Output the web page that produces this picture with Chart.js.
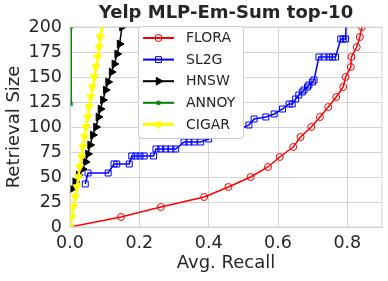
<!DOCTYPE html>
<html>
<head>
<meta charset="utf-8">
<script src="https://cdn.jsdelivr.net/npm/chart.js@4.4.1/dist/chart.umd.min.js"></script>
<style>
  html, body { margin: 0; padding: 0; background: #fff; }
  #wrap { width: 388px; height: 281px; position: relative; }
</style>
</head>
<body>
<div id="wrap"><canvas id="grafico"></canvas></div>
<script>
// valores (recall medio x tamanho recuperado)
const floraRecall = [0, 0.147, 0.262, 0.387, 0.457, 0.521, 0.571, 0.605, 0.644, 0.665, 0.696,
  0.721, 0.745, 0.768, 0.788, 0.795, 0.81, 0.812, 0.827, 0.836, 0.842, 0.85];
const floraSize = [0, 10, 20, 30, 40, 50, 60, 70, 80, 90, 100,
  110, 120, 130, 140, 150, 160, 170, 180, 190, 200, 210];

const sl2gRecall = [0.044, 0.052, 0.11, 0.127, 0.135, 0.171, 0.178, 0.19, 0.202, 0.214, 0.241,
  0.248, 0.262, 0.276, 0.291, 0.305, 0.329, 0.343, 0.358, 0.377, 0.40, 0.44, 0.48,
  0.516, 0.531, 0.565, 0.589, 0.613, 0.632, 0.641, 0.651, 0.66, 0.67, 0.675, 0.685, 0.689,
  0.699, 0.704, 0.718, 0.733, 0.747, 0.757, 0.766, 0.781, 0.788, 0.795, 0.797];
const sl2gSize = [43, 54, 54, 63, 63, 63, 71, 71, 71, 71, 71,
  78, 78, 78, 78, 78, 85, 85, 85, 85, 88, 92, 96,
  102, 108, 110, 113, 118, 123, 123, 128, 132, 135, 137, 140, 142,
  145, 147, 170, 170, 170, 170, 170, 188, 188, 188, 212];

const hnswRecall = [0.005, 0.015, 0.025, 0.036, 0.045, 0.052, 0.058, 0.066, 0.075, 0.082,
  0.088, 0.095, 0.103, 0.11, 0.12, 0.128, 0.136, 0.143, 0.15, 0.155];
const hnswSize = [38, 45, 52, 58, 65, 73, 82, 92, 100, 110,
  118, 127, 137, 145, 155, 163, 173, 183, 200, 215];

const annoyRecall = [0.003, 0.003, 0.004];
const annoySize = [123, 200, 260];

const cigarRecall = [0, 0.005, 0.01, 0.015, 0.02, 0.024, 0.028, 0.033, 0.037, 0.042, 0.046,
  0.051, 0.055, 0.06, 0.065, 0.07, 0.075, 0.08, 0.084, 0.087, 0.092, 0.096];
const cigarSize = [0, 10, 20, 30, 40, 50, 60, 70, 80, 90, 100,
  110, 120, 130, 140, 150, 160, 170, 180, 190, 200, 210];

const xTicks = [0, 0.2, 0.4, 0.6, 0.8];
const yTicks = [0, 25, 50, 75, 100, 125, 150, 175, 200];

const fonte = "'DejaVu Sans', sans-serif";
const corTexto = "#262626";
const corGrade = "#d5d5d5";

function pontos(xs, ys) {
  return xs.map((x, i) => ({ x: x, y: ys[i] }));
}

const series = [
  { label: "FLORA", xs: floraRecall, ys: floraSize, cor: "#ff0000", estilo: "circle", rot: 0, raio: 3.5, cheio: false, linha: 1.5, ordem: 5 },
  { label: "SL2G", xs: sl2gRecall, ys: sl2gSize, cor: "#0000ff", estilo: "rect", rot: 0, raio: 4.2, cheio: false, linha: 1.5, ordem: 4 },
  { label: "HNSW", xs: hnswRecall, ys: hnswSize, cor: "#000000", estilo: "triangle", rot: 90, raio: 4.5, cheio: true, linha: 1.5, ordem: 3 },
  { label: "ANNOY", xs: annoyRecall, ys: annoySize, cor: "#008000", estilo: "star", rot: 0, raio: 2.5, cheio: true, linha: 1.5, ordem: 2 },
  { label: "CIGAR", xs: cigarRecall, ys: cigarSize, cor: "#ffff00", estilo: "triangle", rot: 180, raio: 4.5, cheio: true, linha: 2.5, ordem: 1 },
];

const datasets = series.map((s) => ({
  label: s.label,
  data: pontos(s.xs, s.ys),
  showLine: true,
  borderColor: s.cor,
  borderWidth: s.linha,
  backgroundColor: s.cor,
  pointStyle: s.estilo,
  pointRotation: s.rot,
  pointRadius: s.raio,
  pointHoverRadius: s.raio,
  pointBorderWidth: 1,
  pointBorderColor: s.cor,
  pointBackgroundColor: s.cheio ? s.cor : "rgba(0,0,0,0)",
  tension: 0,
  order: s.ordem,
}));

function desenhaMarcador(ctx, s, x, y) {
  ctx.save();
  ctx.translate(x, y);
  ctx.rotate((s.rot * Math.PI) / 180);
  ctx.beginPath();
  const r = s.raio;
  if (s.estilo === "circle") {
    ctx.arc(0, 0, r, 0, Math.PI * 2);
  } else if (s.estilo === "rect") {
    const h = r * Math.SQRT1_2;
    ctx.rect(-h, -h, 2 * h, 2 * h);
  } else if (s.estilo === "triangle") {
    for (let k = 0; k < 3; k++) {
      const a = -Math.PI / 2 + (k * 2 * Math.PI) / 3;
      ctx[k ? "lineTo" : "moveTo"](r * Math.cos(a), r * Math.sin(a));
    }
    ctx.closePath();
  } else {
    for (let k = 0; k < 10; k++) {
      const a = -Math.PI / 2 + (k * Math.PI) / 5;
      const rr = k % 2 ? r * 0.45 : r;
      ctx[k ? "lineTo" : "moveTo"](rr * Math.cos(a), rr * Math.sin(a));
    }
    ctx.closePath();
  }
  ctx.lineWidth = 1;
  ctx.strokeStyle = s.cor;
  if (s.cheio) {
    ctx.fillStyle = s.cor;
    ctx.fill();
  }
  ctx.stroke();
  ctx.restore();
}

// titulo, moldura e legenda dentro da area do grafico
const extras = {
  id: "extras",
  afterDatasetsDraw(chart) {
    const ctx = chart.ctx;
    const a = chart.chartArea;
    ctx.save();
    ctx.strokeStyle = corGrade;
    ctx.lineWidth = 1;
    ctx.strokeRect(a.left, a.top, a.right - a.left, a.bottom - a.top);

    // legenda
    const bx = 138.5, by = 26.5, bw = 105, bh = 112;
    ctx.beginPath();
    ctx.roundRect(bx, by, bw, bh, 3);
    ctx.fillStyle = "#ffffff";
    ctx.fill();
    ctx.strokeStyle = "#cccccc";
    ctx.stroke();
    ctx.font = "14px " + fonte;
    ctx.textBaseline = "middle";
    ctx.textAlign = "left";
    series.forEach((s, i) => {
      const y = 38 + i * 21.6;
      ctx.beginPath();
      ctx.moveTo(143, y);
      ctx.lineTo(174, y);
      ctx.strokeStyle = s.cor;
      ctx.lineWidth = s.linha + 0.5;
      ctx.stroke();
      desenhaMarcador(ctx, s, 158.5, y);
      ctx.fillStyle = corTexto;
      ctx.fillText(s.label, 186, y + 0.5);
    });

    // titulo
    ctx.font = "bold 18px " + fonte;
    ctx.textAlign = "center";
    ctx.textBaseline = "middle";
    ctx.fillStyle = corTexto;
    ctx.fillText("Yelp MLP-Em-Sum top-10", (a.left + a.right) / 2, 13.5);
    ctx.restore();
  },
};

new Chart(document.getElementById("grafico"), {
  type: "scatter",
  data: { datasets },
  plugins: [extras],
  options: {
    responsive: true,
    maintainAspectRatio: false,
    animation: false,
    events: [],
    layout: { padding: { top: 27, right: 6, left: 0, bottom: 0 } },
    plugins: {
      legend: { display: false },
      tooltip: { enabled: false },
      title: { display: false },
    },
    scales: {
      x: {
        type: "linear",
        min: 0,
        max: 0.9,
        afterFit: (s) => { s.height = 54; },
        afterBuildTicks: (s) => { s.ticks = xTicks.map((v) => ({ value: v })); },
        ticks: {
          padding: 6,
          color: corTexto,
          font: { family: fonte, size: 17.5 },
          callback: (v) => v.toFixed(1),
        },
        grid: { color: corGrade, drawTicks: false },
        border: { color: corGrade },
        title: {
          display: true,
          text: "Avg. Recall",
          color: corTexto,
          font: { family: fonte, size: 18 },
          padding: { top: 0, bottom: 7 },
        },
      },
      y: {
        type: "linear",
        min: 0,
        max: 200,
        afterFit: (s) => { s.width = 70; },
        afterBuildTicks: (s) => { s.ticks = yTicks.map((v) => ({ value: v })); },
        ticks: {
          padding: 8,
          color: corTexto,
          font: { family: fonte, size: 17.5 },
        },
        grid: { color: corGrade, drawTicks: false },
        border: { color: corGrade },
        title: {
          display: true,
          text: "Retrieval Size",
          color: corTexto,
          font: { family: fonte, size: 18 },
          padding: { top: 4, bottom: 0 },
        },
      },
    },
  },
});
</script>
</body>
</html>
